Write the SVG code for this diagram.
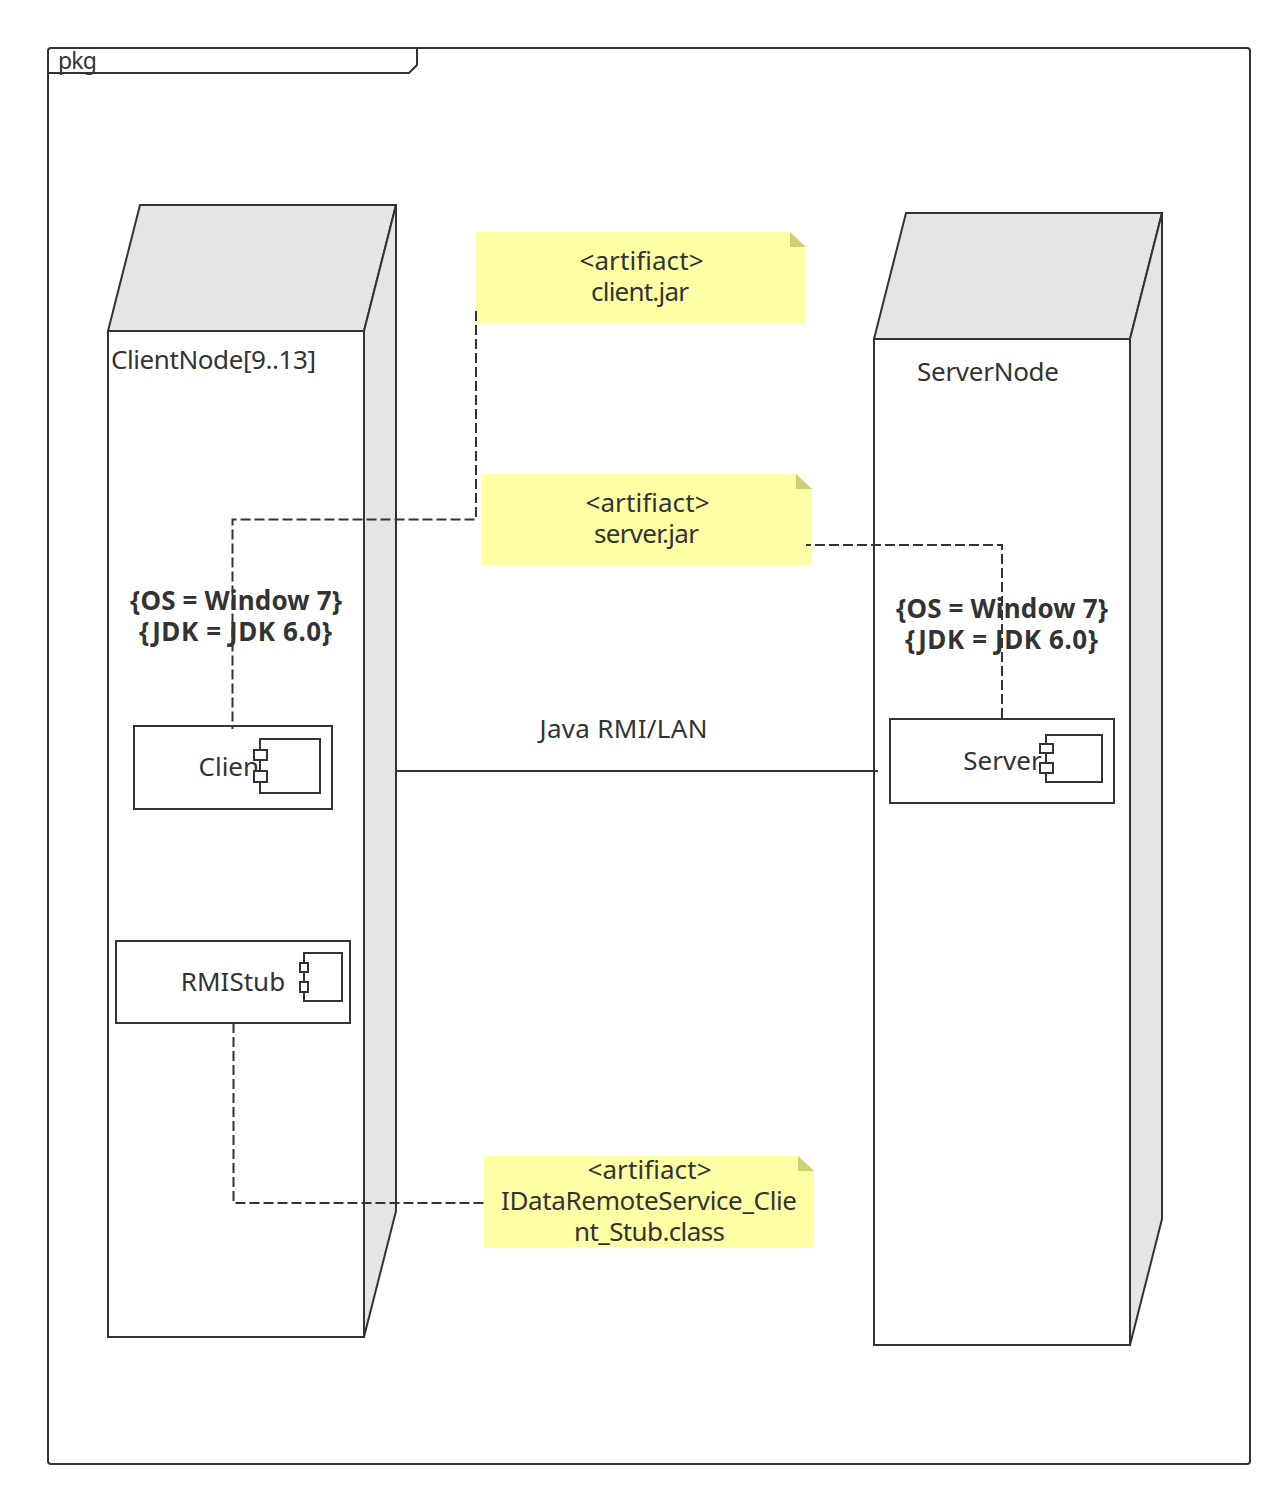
<svg xmlns="http://www.w3.org/2000/svg" width="1282" height="1496" viewBox="0 0 1282 1496">
<style>
.l{fill:none;stroke:#333;stroke-width:2}
.w{fill:#fff;stroke:#333;stroke-width:2}
.g{fill:#e5e5e5;stroke:#333;stroke-width:2;stroke-linejoin:miter}
.p{fill:#fff;stroke:#333;stroke-width:2}
.d{fill:none;stroke:#333;stroke-width:2;stroke-dasharray:10 4}
.n{fill:#ffffa6}
.f{fill:#cfcf76}
text{font-family:"Noto Sans","Open Sans","Liberation Sans",sans-serif;font-size:26px;fill:#333;text-anchor:middle}
.b{font-weight:700}
</style>
<rect width="1282" height="1496" fill="#fff"/>
<g id="pkg">
<rect class="w" x="48" y="48" width="1202" height="1416" rx="3"/>
<path class="l" d="M48 73H409L417 65V48"/>
<text x="58" y="69" style="text-anchor:start;font-size:23px" textLength="39">pkg</text>
</g>
<g id="clientNode">
<rect class="w" x="108" y="331" width="256" height="1006"/>
<path class="g" d="M108 331L140 205H396L364 331Z"/>
<path class="g" d="M364 331L396 205V1211L364 1337Z"/>
<text x="111" y="369" style="text-anchor:start" textLength="205">ClientNode[9..13]</text>
<text class="b" x="236" y="610" textLength="212">{OS = Window 7}</text>
<text class="b" x="235.500" y="641" textLength="193">{JDK = JDK 6.0}</text>
</g>
<g id="serverNode">
<rect class="w" x="874" y="339" width="256" height="1006"/>
<path class="g" d="M874 339L906 213H1162L1130 339Z"/>
<path class="g" d="M1130 339L1162 213V1219L1130 1345Z"/>
<text x="988" y="381" textLength="142">ServerNode</text>
<text class="b" x="1002" y="618" textLength="212">{OS = Window 7}</text>
<text class="b" x="1001.500" y="649" textLength="193">{JDK = JDK 6.0}</text>
</g>
<g id="client">
<rect class="w" x="134" y="726" width="198" height="83"/>
<text x="233.500" y="776">Client</text>
<rect class="w" x="260" y="739" width="60" height="54"/>
<rect class="p" x="254" y="750" width="13" height="10"/>
<rect class="p" x="254" y="771" width="13" height="11"/>
</g>
<g id="server">
<rect class="w" x="890" y="719" width="224" height="84"/>
<text x="1002.500" y="770">Server</text>
<rect class="w" x="1046" y="735" width="56" height="47"/>
<rect class="p" x="1040" y="744" width="13" height="9"/>
<rect class="p" x="1040" y="763" width="13" height="10"/>
</g>
<g id="rmiStub">
<rect class="w" x="116" y="941" width="234" height="82"/>
<text x="233" y="991">RMIStub</text>
<rect class="w" x="304" y="953" width="38" height="48"/>
<rect class="p" x="300" y="963" width="8" height="9"/>
<rect class="p" x="300" y="982" width="8" height="10"/>
</g>
<g id="clientJar">
<path class="n" d="M476 232H790L806 247V323H476Z"/>
<path class="f" d="M790 232L806 247H790Z"/>
<text x="641.500" y="270" textLength="124">&lt;artifiact&gt;</text>
<text x="640" y="301" textLength="98">client.jar</text>
</g>
<g id="serverJar">
<path class="n" d="M482 474H796L812 489V565H482Z"/>
<path class="f" d="M796 474L812 489H796Z"/>
<text x="647.500" y="512" textLength="124">&lt;artifiact&gt;</text>
<text x="646.500" y="543" textLength="105">server.jar</text>
</g>
<g id="stubClass">
<path class="n" d="M484 1156H798L814 1171V1247H484Z"/>
<path class="f" d="M798 1156L814 1171H798Z"/>
<text x="649.500" y="1179" textLength="124">&lt;artifiact&gt;</text>
<text x="649" y="1210" textLength="296">IDataRemoteService_Clie</text>
<text x="649.500" y="1241" textLength="151">nt_Stub.class</text>
</g>
<g id="connectors">
<path class="d" d="M476 311V519.500H232.500V729"/>
<path class="d" style="stroke-dashoffset:5" d="M806 545H1002V719"/>
<path class="d" d="M233.500 1023V1203H484"/>
<path class="l" d="M397 771H878"/>
</g>
<g id="linkLabel"><text x="623.500" y="738" textLength="168">Java RMI/LAN</text></g>
</svg>
